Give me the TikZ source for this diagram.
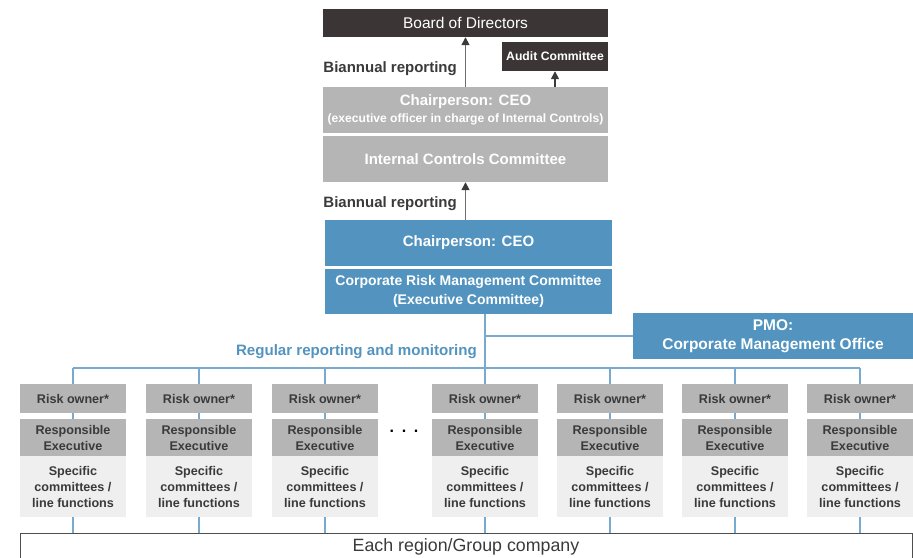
\documentclass[tikz,border=0pt]{standalone}
\usepackage{fontspec}
\setmainfont{Liberation Sans}
\usepackage{tikz}
\usetikzlibrary{arrows.meta,calc,positioning}
\definecolor{boardbrown}{HTML}{3B3536}
\definecolor{boxgray}{HTML}{B5B5B5}
\definecolor{palegray}{HTML}{EFEFEF}
\definecolor{riskblue}{HTML}{5294BF}
\definecolor{lineblue}{HTML}{78AAD0}
\definecolor{textdark}{HTML}{3A3A3A}
\definecolor{arrowgray}{HTML}{6E6E6E}
\tikzset{
  darkbox/.style={fill=boardbrown,text=white,inner sep=0pt},
  graybox/.style={fill=boxgray,text=white,align=center,inner sep=0pt,minimum width=285pt,minimum height=46pt,font=\fontsize{15}{17}\selectfont\bfseries},
  bluebox/.style={fill=riskblue,text=white,align=center,inner sep=0pt,minimum width=287pt,font=\fontsize{14}{19}\selectfont\bfseries},
  ownerbox/.style={fill=boxgray,text=textdark,align=center,inner sep=0pt,minimum width=106pt,font=\fontsize{12.6}{16}\selectfont\bfseries},
  linebox/.style={ownerbox,fill=palegray},
  blueline/.style={lineblue,line width=1.4pt},
  uparrow/.style={-{Triangle[length=8pt,width=8pt,color=textdark]},line width=1.6pt,arrowgray}
}
\begin{document}
\begin{tikzpicture}[x=1pt,y=-1pt]
\useasboundingbox (0,0) rectangle (913,557);
% top: board and internal controls
\node[darkbox,minimum width=285pt,minimum height=28pt,font=\fontsize{15.5}{18}\selectfont] (board) at (465.5,23) {Board of Directors};
\node[darkbox,minimum width=106pt,minimum height=29pt,font=\fontsize{12.2}{14}\selectfont\bfseries] (audit) at (555,56.5) {Audit Committee};
\node[graybox] (chairA) at (465.5,110) {Chairperson: CEO\\{\fontsize{12.1}{14}\selectfont (executive officer in charge of Internal Controls)}};
\node[graybox] (icc) at (465.5,159) {Internal Controls Committee};
\node[anchor=east,inner sep=0pt,text=textdark,font=\fontsize{15}{18}\selectfont\bfseries] (report1) at (457,69) {Biannual reporting};
\node[anchor=east,inner sep=0pt,text=textdark,font=\fontsize{15}{18}\selectfont\bfseries] (report2) at (457,204) {Biannual reporting};
% risk management
\node[bluebox,minimum height=46pt,font=\fontsize{15}{18}\selectfont\bfseries] (chairB) at (468.5,243) {Chairperson: CEO};
\node[bluebox,minimum height=45pt] (crmc) at (468.5,291.5) {Corporate Risk Management Committee\\(Executive Committee)};
\node[bluebox,minimum width=280pt,minimum height=46pt,font=\fontsize{15.5}{19}\selectfont\bfseries] (pmo) at (773,336) {PMO:\\Corporate Management Office};
\node[anchor=east,inner sep=0pt,text=riskblue,font=\fontsize{15.1}{18}\selectfont\bfseries] (regular) at (477,352) {Regular reporting and monitoring};
\draw[uparrow] (board.south |- chairA.north) -- (board.south);
\draw[uparrow,textdark] (audit.south |- chairA.north) -- (audit.south);
\draw[uparrow] (icc.south |- chairB.north) -- (icc.south);
% risk owners
\node[draw=textdark!90,line width=1pt,minimum width=892pt,minimum height=28pt,inner sep=0pt,text=textdark,font=\fontsize{17.8}{20}\selectfont] (region) at (466,547) {Each region/Group company};
\coordinate (bus) at (0,368);
\foreach \x [count=\i] in {73,199,325,485,610,735,860}{
  \node[ownerbox,minimum height=29pt] (risk\i) at (\x,398.5) {Risk owner*};
  \node[ownerbox,minimum height=37pt] (resp\i) at (\x,437.5) {Responsible\\Executive};
  \node[linebox,minimum height=61pt] (spec\i) at (\x,486.5) {Specific\\committees /\\line functions};
  \draw[blueline] (risk\i.north |- bus) -- (risk\i.north);
  \draw[blueline] (risk\i.south) -- (resp\i.north);
  \draw[blueline] (spec\i.south) -- (spec\i.south |- region.north);
}
\node[anchor=base,inner sep=0pt,text=black,font=\fontsize{16}{18}\selectfont\bfseries] (dots) at (404,432.5) {.\hspace{7.6pt}.\hspace{7.6pt}.};
\draw[blueline] (risk1.north |- bus) -- (risk7.north |- bus);
\draw[blueline] (risk4.north |- crmc.south) -- (risk4.north |- bus);
\draw[blueline] (risk4.north |- pmo.west) -- (pmo.west);
\end{tikzpicture}
\end{document}
